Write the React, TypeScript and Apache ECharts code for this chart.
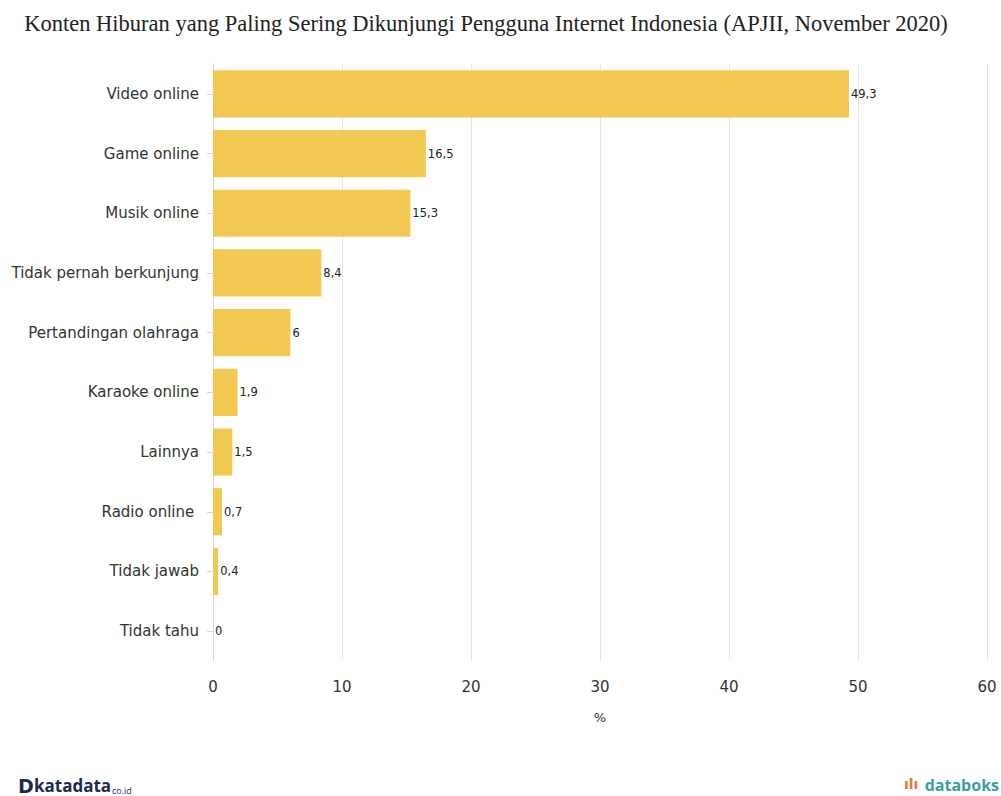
import React, { useEffect, useRef } from "react";
import * as echarts from "echarts";

const categories = [
  "Video online",
  "Game online",
  "Musik online",
  "Tidak pernah berkunjung",
  "Pertandingan olahraga",
  "Karaoke online",
  "Lainnya",
  "Radio online ",
  "Tidak jawab",
  "Tidak tahu",
];
const values = [49.3, 16.5, 15.3, 8.4, 6, 1.9, 1.5, 0.7, 0.4, 0];
const xTicks = [0, 10, 20, 30, 40, 50, 60];

const TITLE = "Konten Hiburan yang Paling Sering Dikunjungi Pengguna Internet Indonesia (APJII, November 2020)";

export default function App() {
  const ref = useRef<HTMLDivElement>(null);
  useEffect(() => {
    const chart = echarts.init(ref.current!, null, { renderer: "svg" });
    const font = "DejaVu Sans";
    chart.setOption({
      animation: false,
      backgroundColor: "#ffffff",
      title: {
        text: TITLE,
        left: 481,
        top: 7,
        textAlign: "center",
        textStyle: {
          fontFamily: "Liberation Serif",
          fontSize: 22.5,
          fontWeight: "normal",
          color: "#222",
        },
      },
      grid: { left: 213, right: 14, top: 64, bottom: 135 },
      xAxis: {
        type: "value",
        min: xTicks[0],
        max: xTicks[xTicks.length - 1],
        interval: 10,
        name: "%",
        nameLocation: "middle",
        nameGap: 50,
        nameTextStyle: { fontFamily: font, fontSize: 13, color: "#333" },
        axisLine: { show: false },
        axisTick: { show: false },
        axisLabel: { fontFamily: font, fontSize: 15, color: "#333", margin: 18 },
        splitLine: { show: true, lineStyle: { color: "#e6e6e6", width: 1 } },
      },
      yAxis: {
        type: "category",
        data: categories,
        inverse: true,
        axisLine: { show: true, lineStyle: { color: "#d8d8d8" } },
        axisTick: { show: true, length: 6, alignWithLabel: true, lineStyle: { color: "#d8d8d8" } },
        axisLabel: { fontFamily: font, fontSize: 15, color: "#333", margin: 14 },
      },
      series: [
        {
          type: "bar",
          data: values,
          barCategoryGap: "21%",
          itemStyle: { color: "#F1C852" },
          label: {
            show: true,
            position: "right",
            distance: 2,
            fontFamily: font,
            fontSize: 11.5,
            color: "#222",
            formatter: (p: any) => String(p.value).replace(".", ","),
          },
        },
      ],
      graphic: [
        {
          type: "text",
          left: 18,
          top: 776,
          style: {
            text: "D",
            font: "900 19px 'DejaVu Sans'",
            fill: "#1c2b4f",
          },
        },
        {
          type: "text",
          left: 34,
          top: 777,
          style: {
            text: "katadata",
            font: "bold 17px 'Open Sans'",
            fill: "#1c2b4f",
          },
        },
        {
          type: "text",
          left: 112,
          top: 786,
          style: {
            text: "co.id",
            font: "9px 'Open Sans'",
            fill: "#1c2b4f",
          },
        },
        {
          type: "text",
          left: 904,
          top: 777,
          style: {
            text: "ılı",
            font: "bold 14px 'DejaVu Sans'",
            fill: "#e8743b",
          },
        },
        {
          type: "text",
          right: 2,
          top: 777,
          style: {
            text: "databoks",
            font: "bold 16px 'Open Sans'",
            fill: "#3a9f9f",
          },
        },
      ],
    });
    return () => chart.dispose();
  }, []);
  return <div ref={ref} style={{ width: 1001, height: 796, position: "absolute", left: 0, top: 0 }} />;
}
